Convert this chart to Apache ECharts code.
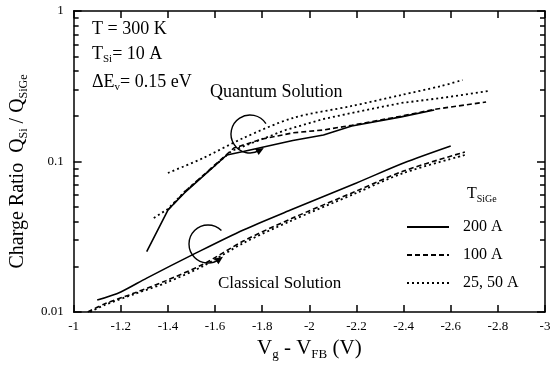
<!DOCTYPE html>
<html>
<head>
<meta charset="utf-8">
<script src="https://cdn.jsdelivr.net/npm/echarts@6/dist/echarts.min.js"></script>
<style>
  html, body { margin: 0; padding: 0; background: #fff; }
  #chart { width: 559px; height: 368px; }
</style>
</head>
<body>
<div id="chart"></div>
<script>
// points are [Vg - VFB (V), Q_Si / Q_SiGe]
const quantum200 = [[-1.31, 0.0252], [-1.40, 0.0476], [-1.47, 0.0618], [-1.65, 0.1105], [-1.72, 0.1165], [-1.93, 0.138], [-2.06, 0.150], [-2.18, 0.172], [-2.39, 0.198], [-2.53, 0.220]]
const quantum100 = [[-1.40, 0.0476], [-1.47, 0.0627], [-1.68, 0.1229], [-1.80, 0.141], [-1.93, 0.155], [-2.06, 0.162], [-2.18, 0.174], [-2.39, 0.200], [-2.53, 0.222], [-2.75, 0.2485]]
const quantum25 = [[-1.34, 0.0421], [-1.40, 0.0484], [-1.47, 0.0627], [-1.67, 0.1174], [-1.80, 0.1411], [-1.90, 0.162], [-2.06, 0.1916], [-2.22, 0.2166], [-2.39, 0.2447], [-2.56, 0.2642], [-2.76, 0.294]]
const quantum50 = [[-1.40, 0.0839], [-1.55, 0.1055], [-1.72, 0.1432], [-1.93, 0.1945], [-2.18, 0.2338], [-2.39, 0.2766], [-2.56, 0.3174], [-2.65, 0.3478]]

const classical200 = [[-1.10, 0.0120], [-1.20, 0.0136], [-1.31, 0.0168], [-1.52, 0.0247], [-1.72, 0.0351], [-1.92, 0.0476], [-2.20, 0.0720], [-2.40, 0.0977], [-2.60, 0.1268]]
const classical100 = [[-1.06, 0.0100], [-1.13, 0.0113], [-1.26, 0.0134], [-1.39, 0.0161], [-1.55, 0.0208], [-1.72, 0.0296], [-1.92, 0.0415], [-2.20, 0.0637], [-2.40, 0.0865], [-2.66, 0.1156]]
const classical25 = [[-1.07, 0.0100], [-1.13, 0.0111], [-1.26, 0.0132], [-1.39, 0.0156], [-1.55, 0.0202], [-1.72, 0.0287], [-1.92, 0.0402], [-2.20, 0.0618], [-2.40, 0.0839], [-2.66, 0.1105]]

const legendNames = ['200 A', '100 A', '25, 50 A']
const yMinorTicks = [0.02, 0.03, 0.04, 0.05, 0.06, 0.07, 0.08, 0.09, 0.2, 0.3, 0.4, 0.5, 0.6, 0.7, 0.8, 0.9]

const serif = "'Liberation Serif', 'Times New Roman', serif"
const SOLID = 'solid'
const DASH = [5, 3]
const DOT = [2, 3]

const chart = echarts.init(document.getElementById('chart'))

function curve(name, data, dash, smooth) {
  return {
    name,
    type: 'line',
    data,
    symbol: 'none',
    smooth: smooth || false,
    silent: true,
    itemStyle: { color: '#000' },
    lineStyle: { color: '#000', width: dash === DOT ? 1.8 : 1.6, type: dash },
  }
}

const rich = (size) => ({
  m: { fontFamily: serif, fontSize: size, color: '#000', lineHeight: size + 4 },
  s: { fontFamily: serif, fontSize: Math.round(size * 0.6), color: '#000', lineHeight: Math.round(size * 0.6), verticalAlign: 'bottom' },
})

function label(x, y, text, size) {
  return {
    type: 'text',
    left: x,
    top: y,
    silent: true,
    style: { text, rich: rich(size), fill: '#000', font: size + 'px ' + serif },
  }
}

// circular arrow: arc drawn anticlockwise on screen, arrowhead at the end
function circleArrow(cx, cy, r, a0deg, a1deg) {
  const a0 = a0deg * Math.PI / 180
  const a1 = a1deg * Math.PI / 180
  const px = cx + r * Math.cos(a1)
  const py = cy + r * Math.sin(a1)
  const dx = Math.sin(a1), dy = -Math.cos(a1)
  const nx = Math.cos(a1), ny = Math.sin(a1)
  return [
    {
      type: 'arc',
      silent: true,
      shape: { cx, cy, r, startAngle: a0, endAngle: a1, clockwise: false },
      style: { stroke: '#000', fill: null, lineWidth: 1.4 },
    },
    {
      type: 'polygon',
      silent: true,
      shape: {
        points: [
          [px + dx * 5, py + dy * 5],
          [px - dx * 3 + nx * 3.5, py - dy * 3 + ny * 3.5],
          [px - dx * 3 - nx * 3.5, py - dy * 3 - ny * 3.5],
        ],
      },
      style: { fill: '#000' },
    },
  ]
}

// fresh objects for every axis; onZero off so the x axes stay on the grid edges
const axisLine = (show) => ({ show, onZero: false, lineStyle: { color: '#000', width: 1.5 } })
const tick = (length) => ({ show: true, inside: true, length, lineStyle: { color: '#000', width: 1.5 } })
// split lines stay "on" but invisible: ticks went missing whenever they were switched off
const hiddenSplit = () => ({ show: true, lineStyle: { color: 'rgba(0,0,0,0)', width: 0 } })

const xAxisAt = (position, withLabels) => ({
  type: 'value', min: -3, max: -1, interval: 0.2, inverse: true, position,
  splitLine: hiddenSplit(),
  axisLine: axisLine(true),
  axisTick: tick(7),
  axisLabel: withLabels
    ? { show: true, color: '#000', fontFamily: serif, fontSize: 13, margin: 8 }
    : { show: false },
})
const yLogAt = (position) => ({
  type: 'log', logBase: 10, min: 0.01, max: 1, position,
  splitLine: hiddenSplit(),
  axisLine: axisLine(true),
  axisTick: tick(8),
  axisLabel: { show: false },
})
// minor log ticks: a linear axis over log10 of the same range, ticks only
const yMinorAt = (position) => ({
  type: 'value', min: -2, max: 0, position,
  splitLine: hiddenSplit(),
  axisLine: axisLine(false),
  axisLabel: { show: false },
  axisTick: { ...tick(5), customValues: yMinorTicks.map((v) => Math.log10(v)) },
})

const option = {
  animation: false,
  backgroundColor: '#fff',
  grid: { left: 68, right: 14, top: 11, bottom: 56 },
  xAxis: [
    {
      ...xAxisAt('bottom', true),
      name: '{m|V}{s|g}{m| - V}{s|FB}{m| (V)}',
      nameLocation: 'middle',
      nameGap: 24,
      nameTextStyle: { rich: rich(21) },
    },
    xAxisAt('top', false),
  ],
  yAxis: [
    {
      ...yLogAt('left'),
      axisLabel: { show: true, color: '#000', fontFamily: serif, fontSize: 13, margin: 10 },
      name: '{m|Charge Ratio  Q}{s|Si}{m| / Q}{s|SiGe}',
      nameLocation: 'middle',
      nameRotate: 90,
      nameGap: 23,
      nameTextStyle: { rich: rich(20), padding: [0, 20, 0, 0] },
    },
    yMinorAt('left'),
    yLogAt('right'),
    yMinorAt('right'),
  ],
  legend: {
    data: legendNames,
    orient: 'vertical',
    left: 406,
    top: 219,
    padding: 0,
    itemWidth: 42,
    itemHeight: 14,
    itemGap: 12,
    selectedMode: false,
    itemStyle: { opacity: 0 },
    textStyle: { color: '#000', fontFamily: serif, fontSize: 16, padding: [0, 0, 0, 9] },
  },
  series: [
    curve('200 A', quantum200, SOLID),
    curve('100 A', quantum100, DASH),
    curve('25, 50 A', quantum25, DOT),
    curve('25, 50 A', quantum50, DOT, 0.3),
    curve('200 A', classical200, SOLID, 0.3),
    curve('100 A', classical100, DASH, 0.3),
    curve('25, 50 A', classical25, DOT, 0.3),
  ],
  graphic: [
    label(92, 20, '{m|T = 300 K}', 18),
    label(92, 45, '{m|T}{s|Si}{m|= 10 A}', 18),
    label(92, 73, '{m|ΔE}{s|v}{m|= 0.15 eV}', 18),
    label(210, 83, '{m|Quantum Solution}', 18),
    label(218, 275, '{m|Classical Solution}', 17),
    label(467, 186, '{m|T}{s|SiGe}', 16),
    ...circleArrow(250, 134, 19, -33, 60),
    ...circleArrow(208, 244, 19, -45, 55),
  ],
}

chart.setOption(option)
</script>
</body>
</html>
